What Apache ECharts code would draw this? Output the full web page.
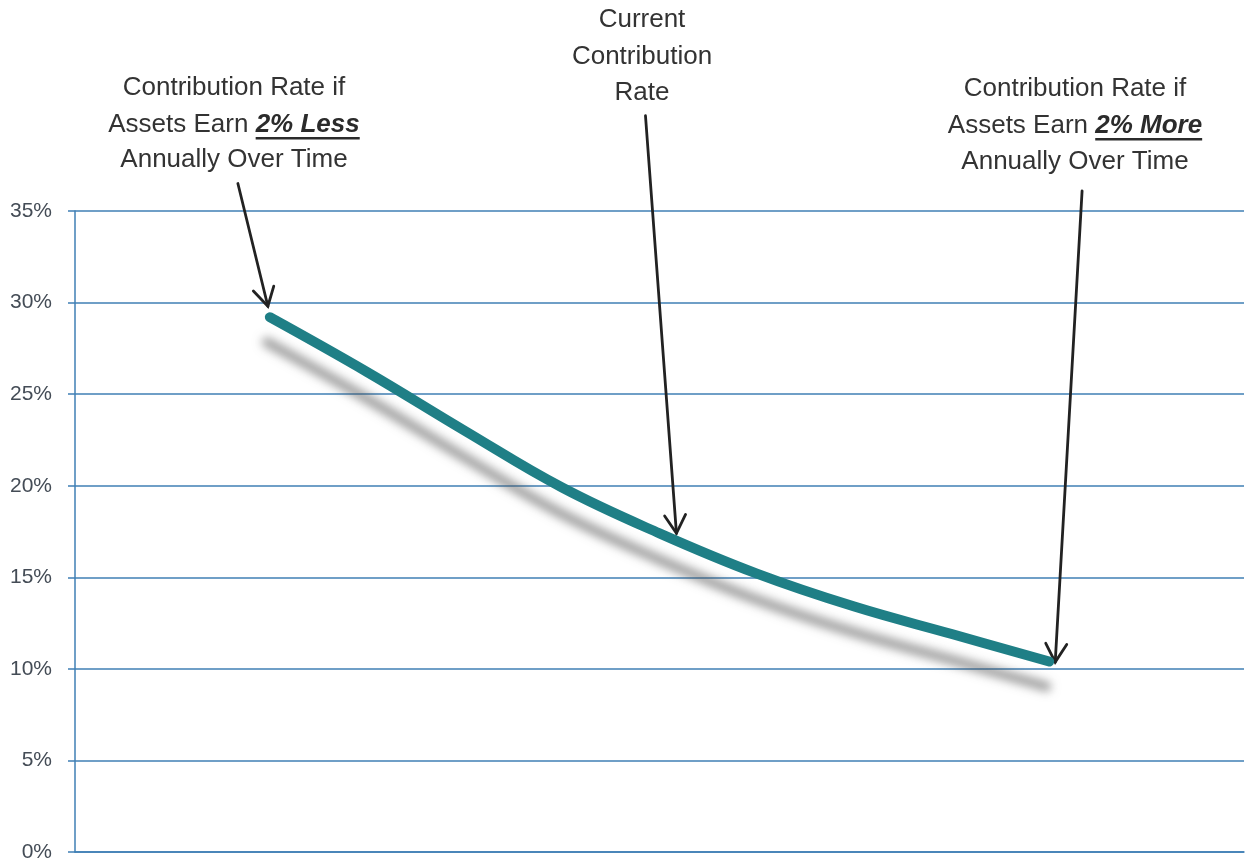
<!DOCTYPE html>
<html><head><meta charset="utf-8">
<script src="https://cdn.jsdelivr.net/npm/echarts@6/dist/echarts.min.js"></script>
<style>html,body{margin:0;padding:0;background:#fff}#c{width:1247px;height:864px}</style>
</head><body><div id="c"></div>
<script>
// ---- data ----
const returnShift = [-2, -1.5, -1, -0.5, 0, 0.5, 1, 1.5, 2];
const contributionRate = [29.2, 26.2, 23.0, 19.9, 17.4, 15.2, 13.4, 11.9, 10.4];
const yTickLabels = ['0%', '5%', '10%', '15%', '20%', '25%', '30%', '35%'];
const labelLess = ['Contribution Rate if', 'Assets Earn ', '2% Less', 'Annually Over Time'];
const labelCurrent = ['Current', 'Contribution', 'Rate'];
const labelMore = ['Contribution Rate if', 'Assets Earn ', '2% More', 'Annually Over Time'];
// arrow annotations (data space: [return shift, rate])
const arrowFrom = [[-2.164, 36.5], [-0.072, 40.2], [2.169, 36.1]];
const arrowTo = [[-2.01, 29.8], [0.087, 17.4], [2.031, 10.37]];

const GRID = '#3f7fb5';
const chart = echarts.init(document.getElementById('c'));
chart.setOption({
  animation: false,
  backgroundColor: '#fff',
  grid: { left: 75, right: 3, top: 211, bottom: 12 },
  xAxis: {
    type: 'value', min: -3, max: 3,
    axisLine: { show: true, onZero: false, lineStyle: { color: GRID, width: 1.5 } },
    axisTick: { show: false }, axisLabel: { show: false }, splitLine: { show: false }
  },
  yAxis: {
    type: 'value', min: 0, max: 35, interval: 5,
    axisLine: { show: true, onZero: false, lineStyle: { color: GRID, width: 1.5 } },
    axisTick: { show: true, length: 7, lineStyle: { color: GRID, width: 1.5 } },
    splitLine: { show: true, lineStyle: { color: GRID, width: 1.5 } },
    axisLabel: {
      margin: 23, fontSize: 21, color: '#444c56', fontFamily: 'Liberation Sans, Arial',
      formatter: v => yTickLabels[Math.round(v / 5)]
    }
  },
  series: [{
    type: 'line', smooth: 0.4, showSymbol: false, clip: false,
    data: returnShift.map((x, i) => [x, contributionRate[i]]),
    lineStyle: {
      color: '#1f7f86', width: 10, cap: 'round',
      shadowColor: 'rgba(80,80,80,0.55)', shadowBlur: 10, shadowOffsetX: -3, shadowOffsetY: 25
    }
  }]
});

// ---- annotations ----
const FONT = '"Liberation Sans", Arial, sans-serif';
const FS = 26;
const TXT = '#333';
const cnv = document.createElement('canvas').getContext('2d');
function w(t, f) { cnv.font = f; return cnv.measureText(t).width; }

const g = [];
function plainText(t, cx, cy) {
  g.push({ type: 'text', style: { text: t, x: cx, y: cy, align: 'center', verticalAlign: 'middle',
    font: FS + 'px ' + FONT, fill: TXT } });
}
function mixedLine(a, b, cx, cy) {
  const fa = FS + 'px ' + FONT, fb = 'italic bold ' + FS + 'px ' + FONT;
  const wa = w(a, fa), wb = w(b, fb), W = wa + wb;
  const x0 = cx - W / 2;
  g.push({ type: 'text', style: { text: a, x: x0, y: cy, align: 'left', verticalAlign: 'middle', font: fa, fill: TXT } });
  g.push({ type: 'text', style: { text: b, x: x0 + wa, y: cy, align: 'left', verticalAlign: 'middle', font: fb, fill: '#2b2b2b' } });
  g.push({ type: 'rect', shape: { x: x0 + wa, y: cy + 12, width: wb, height: 2.5 }, style: { fill: '#2b2b2b' } });
}
function block(lines, cx, ys) {
  if (lines.length === 3) { lines.forEach((t, i) => plainText(t, cx, ys[i])); }
  else { plainText(lines[0], cx, ys[0]); mixedLine(lines[1], lines[2], cx, ys[1]); plainText(lines[3], cx, ys[2]); }
}
block(labelLess, 234, [88, 125, 160]);
block(labelCurrent, 642, [20, 57, 93]);
block(labelMore, 1075, [89, 126, 162]);

arrowFrom.forEach((f, i) => {
  const p0 = chart.convertToPixel({ gridIndex: 0 }, f);
  const p1 = chart.convertToPixel({ gridIndex: 0 }, arrowTo[i]);
  const dx = p1[0] - p0[0], dy = p1[1] - p0[1], L = Math.hypot(dx, dy);
  const ux = dx / L, uy = dy / L, a = 30 * Math.PI / 180, len = 21;
  const arm = s => [p1[0] - len * (ux * Math.cos(a) - s * uy * Math.sin(a)),
                    p1[1] - len * (uy * Math.cos(a) + s * ux * Math.sin(a))];
  const ls = { stroke: '#222', lineWidth: 2.8, fill: null, lineCap: 'round', lineJoin: 'miter' };
  g.push({ type: 'polyline', shape: { points: [p0, p1] }, style: ls });
  g.push({ type: 'polyline', shape: { points: [arm(1), p1, arm(-1)] }, style: ls });
});
chart.setOption({ graphic: { elements: g } });
</script></body></html>
